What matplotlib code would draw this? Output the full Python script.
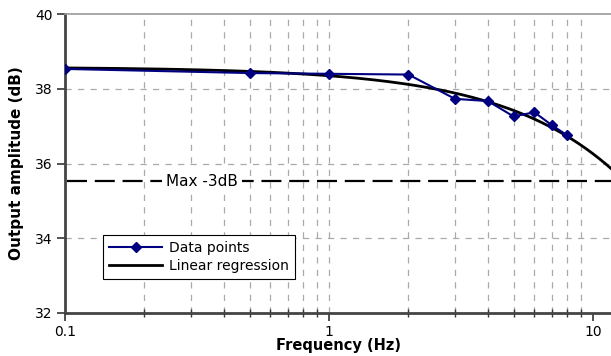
import numpy as np
import matplotlib
matplotlib.use("Agg")
import matplotlib.pyplot as plt
from matplotlib.ticker import NullFormatter, FixedLocator

freq = [0.1, 0.5, 1, 2, 3, 4, 5, 6, 7, 8]
amp = [38.53, 38.42, 38.40, 38.38, 37.73, 37.67, 37.26, 37.37, 37.02, 36.75]
reg_intercept = 38.58
reg_slope = -0.232
xlim = (0.1, 11.7)
ylim = (32, 40)
yticks = [32, 34, 36, 38, 40]
xticks = [0.1, 1, 10]
xticklabels = ["0.1", "1", "10"]

fig = plt.figure(figsize=(6.11, 3.56), dpi=100)
ax = fig.add_axes([65/611, 1-313/356, (611-65)/611, (313-14)/356])

ax.set_xscale("log")
ax.set_xlim(*xlim)
ax.set_ylim(*ylim)

grid_kw = dict(color="#aaaaaa", linestyle=(0, (5, 5)), linewidth=0.9)
minor_x = [m * 10.0**e for e in (-1, 0) for m in range(2, 10)]
for x in minor_x + [1]:
    ax.axvline(x, zorder=0, **grid_kw)
for y in [34, 36, 38]:
    ax.axhline(y, zorder=0, **grid_kw)

xr = np.logspace(np.log10(xlim[0]), np.log10(xlim[1]), 300)
ax.plot(xr, reg_intercept + reg_slope * xr, color="black", lw=2, zorder=3, label="Linear regression")
ax.plot(freq, amp, color="#000080", lw=1.5, marker="D", ms=5, zorder=4, label="Data points")

max3 = amp[0] - 3
ax.plot([0.102, xlim[1]], [max3, max3], color="black", lw=1.6, linestyle=(0, (9, 3.5)), zorder=2)
ax.text(0.33, max3, "Max -3dB", ha="center", va="center", fontsize=11,
        bbox=dict(facecolor="white", edgecolor="none", pad=3), zorder=5)

ax.set_xticks(xticks)
ax.set_xticklabels(xticklabels)
ax.xaxis.set_minor_locator(FixedLocator(minor_x))
ax.xaxis.set_minor_formatter(NullFormatter())
ax.set_yticks(yticks)
ax.tick_params(axis="both", which="major", labelsize=10, color="#333333", length=5.5, width=1.2, direction="out")
ax.tick_params(axis="x", which="minor", color="#333333", length=6, width=1, direction="inout")

for s in ["left", "bottom"]:
    ax.spines[s].set_color("#444444")
    ax.spines[s].set_linewidth(2)
ax.spines["top"].set_color("#999999")
ax.spines["top"].set_linewidth(1.2)
ax.spines["right"].set_visible(False)

ax.set_xlabel("Frequency (Hz)", fontsize=10.5, fontweight="bold", labelpad=-1)
ax.set_ylabel("Output amplitude (dB)", fontsize=11, fontweight="bold", labelpad=8)

h, l = ax.get_legend_handles_labels()
leg = ax.legend(h[::-1], l[::-1], loc="upper left", bbox_to_anchor=(38/546, (313-235)/299),
                borderaxespad=0, fontsize=10, frameon=True, fancybox=False, edgecolor="black",
                framealpha=1, borderpad=0.45, labelspacing=0.25, handlelength=3.8, handletextpad=0.5)
leg.get_frame().set_linewidth(0.8)

fig.savefig("out.png", dpi=100)
